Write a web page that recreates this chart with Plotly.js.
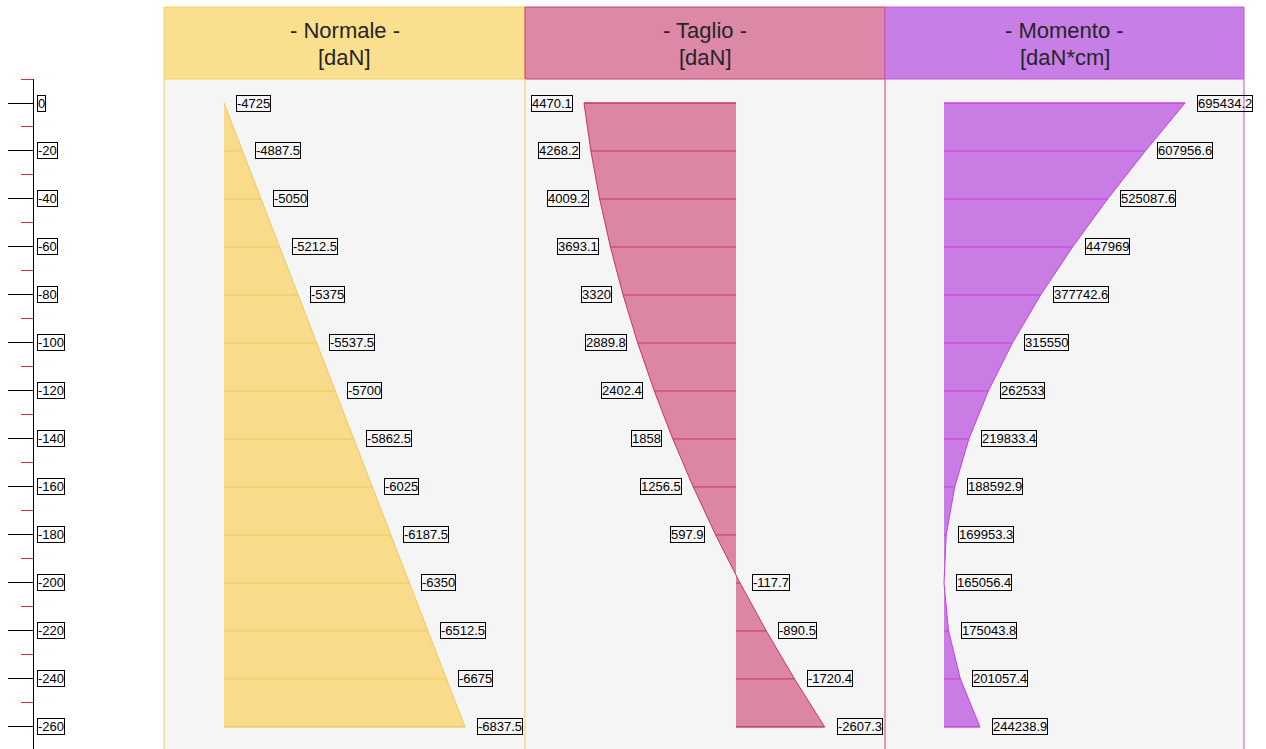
<!DOCTYPE html>
<html>
<head>
<meta charset="utf-8">
<script src="https://cdn.plot.ly/plotly-3.0.1.min.js"></script>
<style>
  html, body { margin: 0; padding: 0; background: #ffffff; }
  #chart { width: 1266px; height: 749px; }
</style>
</head>
<body>
<div id="chart"></div>
<script>
// ---------- DATA ----------
const positions = [0, -20, -40, -60, -80, -100, -120, -140, -160, -180, -200, -220, -240, -260];
const yTickLabels = ["0", "-20", "-40", "-60", "-80", "-100", "-120", "-140", "-160", "-180", "-200", "-220", "-240", "-260"];
const normale = [-4725, -4887.5, -5050, -5212.5, -5375, -5537.5, -5700, -5862.5, -6025, -6187.5, -6350, -6512.5, -6675, -6837.5];
const taglio = [4470.1, 4268.2, 4009.2, 3693.1, 3320, 2889.8, 2402.4, 1858, 1256.5, 597.9, -117.7, -890.5, -1720.4, -2607.3];
const momento = [695434.2, 607956.6, 525087.6, 447969, 377742.6, 315550, 262533, 219833.4, 188592.9, 169953.3, 165056.4, 175043.8, 201057.4, 244238.9];
const panelTitles = ["- Normale -", "- Taglio -", "- Momento -"];
const panelUnits = ["[daN]", "[daN]", "[daN*cm]"];

// ---------- LAYOUT HELPERS ----------
const W = 1266, H = 749;
const px = v => v / W;
const py = v => 1 - v / H;
const FONT = 'Arial, Liberation Sans, sans-serif';

const panels = [
  { vals: normale, base: Math.max(...normale), xa: 'x',  key: 'xaxis',  l: 164, r: 525, range: [-4199.1, -7363.4],
    fill: '#f8dc8c', line: '#efc95a', head: '#fadf8f', border: '#f2d35f' },
  { vals: taglio,  base: 0,                    xa: 'x2', key: 'xaxis2', l: 525, r: 885, range: [6205.1, -4381.8],
    fill: '#dc86a4', line: '#c2356c', head: '#dd88a6', border: '#c8406f' },
  { vals: momento, base: Math.min(...momento), xa: 'x3', key: 'xaxis3', l: 885, r: 1244, range: [35212, 825282],
    fill: '#c87ce4', line: '#c93ee0', head: '#c77ee6', border: '#c255d6' }
];

const traces = [];
const annotations = [];
const headShapes = [];
const borderShapes = [];
const layout = {
  width: W, height: H,
  margin: { l: 0, r: 0, t: 0, b: 0 },
  paper_bgcolor: '#ffffff',
  plot_bgcolor: '#f5f5f5',
  showlegend: false,
  yaxis: {
    domain: [0, py(79)],
    range: [-269.2, 10],
    anchor: 'free',
    position: px(32.5),
    side: 'left',
    showline: true, linecolor: '#000000', linewidth: 1,
    ticks: 'outside', ticklen: 25, tickcolor: '#000000', tickwidth: 1,
    tickmode: 'array', tickvals: positions,
    minor: { ticks: 'outside', tickmode: 'linear', tick0: -10, dtick: 20, ticklen: 12, tickcolor: '#e03040', tickwidth: 1 },
    showticklabels: false, showgrid: false, zeroline: false
  }
};

panels.forEach((p, i) => {
  // fill polygon
  traces.push({
    type: 'scatter', mode: 'lines', xaxis: p.xa, yaxis: 'y',
    x: [p.base, ...p.vals, p.base],
    y: [positions[0], ...positions, positions[positions.length - 1]],
    fill: 'toself', fillcolor: p.fill,
    line: { color: p.line, width: 1 },
    hoverinfo: 'skip'
  });
  // row lines
  const rx = [], ry = [];
  p.vals.forEach((v, k) => { rx.push(p.base, v, null); ry.push(positions[k], positions[k], null); });
  traces.push({
    type: 'scatter', mode: 'lines', xaxis: p.xa, yaxis: 'y',
    x: rx, y: ry, line: { color: p.line, width: 1 }, hoverinfo: 'skip'
  });
  // axis
  layout[p.key] = {
    domain: [px(p.l), px(p.r)], range: p.range, anchor: 'y',
    visible: false, showgrid: false, zeroline: false
  };
  // value labels
  p.vals.forEach((v, k) => {
    const anchorLeft = (i === 1) ? v < 0 : true;
    annotations.push({
      xref: p.xa, yref: 'y', x: v, y: positions[k],
      text: String(v), showarrow: false,
      xanchor: anchorLeft ? 'left' : 'right', yanchor: 'middle',
      xshift: anchorLeft ? 12 : -11,
      font: { family: FONT, size: 13, color: '#000000' },
      bordercolor: '#000000', borderwidth: 1, borderpad: 0, bgcolor: 'rgba(0,0,0,0)'
    });
  });
  // header
  headShapes.push({ type: 'rect', xref: 'paper', yref: 'paper', x0: px(p.l), x1: px(p.r), y0: py(79), y1: py(7),
    fillcolor: p.head, line: { color: p.border, width: 1 }, layer: 'below' });
  // panel vertical borders
  borderShapes.push({ type: 'line', xref: 'paper', yref: 'paper', x0: px(p.r), x1: px(p.r), y0: 0, y1: py(79),
    line: { color: p.border, width: 1 }, layer: 'above' });
  if (i === 0) {
    borderShapes.push({ type: 'line', xref: 'paper', yref: 'paper', x0: px(p.l), x1: px(p.l), y0: 0, y1: py(79),
      line: { color: p.border, width: 1 }, layer: 'above' });
  }
  annotations.push({
    xref: 'paper', yref: 'paper', x: px((p.l + p.r) / 2), y: py(30),
    text: panelTitles[i], showarrow: false, xanchor: 'center', yanchor: 'middle',
    font: { family: FONT, size: 22, color: '#262626' }
  });
  annotations.push({
    xref: 'paper', yref: 'paper', x: px((p.l + p.r) / 2), y: py(57),
    text: panelUnits[i], showarrow: false, xanchor: 'center', yanchor: 'middle',
    font: { family: FONT, size: 22, color: '#262626' }
  });
});

// left axis boxed labels
positions.forEach((v, k) => {
  annotations.push({
    xref: 'paper', yref: 'y', x: px(37), y: v,
    text: yTickLabels[k], showarrow: false, xanchor: 'left', yanchor: 'middle',
    font: { family: FONT, size: 13, color: '#000000' },
    bordercolor: '#000000', borderwidth: 1, borderpad: 0, bgcolor: 'rgba(0,0,0,0)'
  });
});

layout.annotations = annotations;
// draw later-panel borders first so that the left panel's right border wins on shared edges
layout.shapes = headShapes.concat(borderShapes.slice().reverse());

Plotly.newPlot('chart', traces, layout, { displayModeBar: false, staticPlot: true });
</script>
</body>
</html>
